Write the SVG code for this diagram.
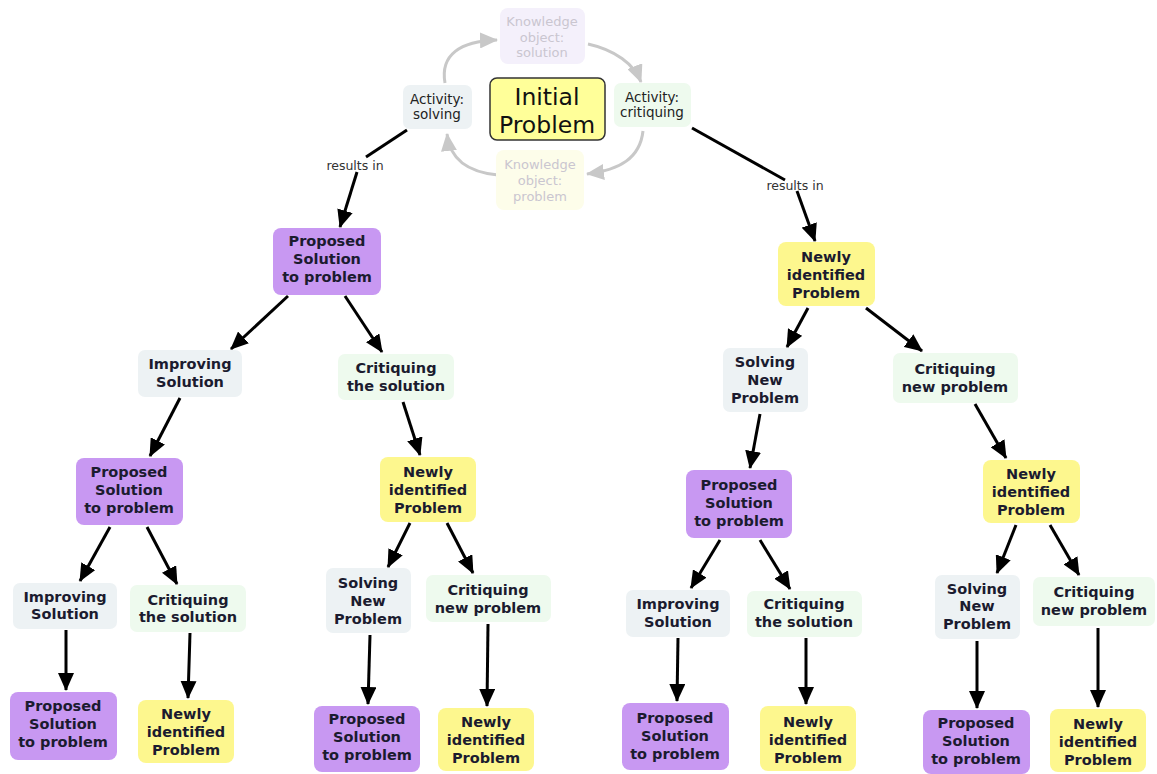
<svg xmlns="http://www.w3.org/2000/svg" width="1157" height="774" viewBox="0 0 1157 774">
<style>
.n text{font-family:"DejaVu Sans","Verdana",sans-serif;font-weight:bold;font-size:14.5px;fill:#1b1b2f;text-anchor:middle}
.sm text{font-family:"DejaVu Sans","Verdana",sans-serif;font-size:13.5px;fill:#222;text-anchor:middle}
.ghost text{font-family:"DejaVu Sans","Verdana",sans-serif;font-size:13px;fill:#cac6d0;text-anchor:middle}
.pur{fill:#c898f2}
.yel{fill:#fdf78e}
.blu{fill:#edf2f4}
.grn{fill:#eefaee}
.c line,.c path{stroke:#000;stroke-width:3;fill:none}
.g path{stroke:#c8c8c8;stroke-width:3;fill:none}
.lbl{font-family:"DejaVu Sans","Verdana",sans-serif;font-size:12.5px;fill:#333;text-anchor:middle}
</style>
<defs>
<marker id="ah" markerUnits="userSpaceOnUse" markerWidth="18" markerHeight="16" refX="17" refY="8" orient="auto">
<path d="M0,0 L18,8 L0,16 z" fill="#000"/>
</marker>
<marker id="gh" markerUnits="userSpaceOnUse" markerWidth="18" markerHeight="16" refX="17" refY="8" orient="auto">
<path d="M0,0 L18,8 L0,16 z" fill="#c8c8c8"/>
</marker>
</defs>
<rect width="1157" height="774" fill="#fff"/>

<g id="cycle" class="g">
<path d="M445,83 C440,55 460,41 497,40" marker-end="url(#gh)"/>
<path d="M588,44 C615,50 634,64 641,82" marker-end="url(#gh)"/>
<path d="M643,131 C640,158 620,170 587,174" marker-end="url(#gh)"/>
<path d="M498,175 C468,172 450,160 447,134" marker-end="url(#gh)"/>
</g>

<g id="connectors" class="c">
<line x1="407" y1="130" x2="366" y2="157"/>
<line x1="357" y1="172" x2="340" y2="227" marker-end="url(#ah)"/>
<line x1="692" y1="128" x2="785" y2="180"/>
<line x1="797" y1="191" x2="815" y2="241" marker-end="url(#ah)"/>
<line x1="288" y1="296" x2="231" y2="349" marker-end="url(#ah)"/>
<line x1="345" y1="296" x2="382" y2="352" marker-end="url(#ah)"/>
<line x1="180" y1="398" x2="150" y2="456" marker-end="url(#ah)"/>
<line x1="403" y1="402" x2="420" y2="455" marker-end="url(#ah)"/>
<line x1="110" y1="527" x2="80" y2="581" marker-end="url(#ah)"/>
<line x1="147" y1="527" x2="177" y2="584" marker-end="url(#ah)"/>
<line x1="66" y1="630" x2="66" y2="690" marker-end="url(#ah)"/>
<line x1="190" y1="633" x2="188" y2="698" marker-end="url(#ah)"/>
<line x1="410" y1="523" x2="388" y2="567" marker-end="url(#ah)"/>
<line x1="447" y1="523" x2="473" y2="573" marker-end="url(#ah)"/>
<line x1="370" y1="635" x2="368" y2="704" marker-end="url(#ah)"/>
<line x1="488" y1="624" x2="487" y2="706" marker-end="url(#ah)"/>
<line x1="808" y1="308" x2="787" y2="347" marker-end="url(#ah)"/>
<line x1="866" y1="308" x2="922" y2="351" marker-end="url(#ah)"/>
<line x1="760" y1="414" x2="750" y2="468" marker-end="url(#ah)"/>
<line x1="975" y1="404" x2="1006" y2="458" marker-end="url(#ah)"/>
<line x1="720" y1="540" x2="691" y2="588" marker-end="url(#ah)"/>
<line x1="760" y1="540" x2="790" y2="589" marker-end="url(#ah)"/>
<line x1="678" y1="638" x2="677" y2="701" marker-end="url(#ah)"/>
<line x1="806" y1="638" x2="806" y2="704" marker-end="url(#ah)"/>
<line x1="1016" y1="525" x2="997" y2="573" marker-end="url(#ah)"/>
<line x1="1050" y1="525" x2="1079" y2="575" marker-end="url(#ah)"/>
<line x1="977" y1="641" x2="977" y2="708" marker-end="url(#ah)"/>
<line x1="1098" y1="628" x2="1098" y2="707" marker-end="url(#ah)"/>
<text class="lbl" x="355" y="170" stroke="none" fill="#333">results in</text>
<text class="lbl" x="795" y="190" stroke="none" fill="#333">results in</text>
</g>

<g id="ko_solution" class="ghost"><rect x="500" y="8" width="85" height="56" rx="8" fill="#f4f0fb"/>
<text x="542" y="26">Knowledge</text><text x="542" y="42">object:</text><text x="542" y="57">solution</text></g>
<g id="act_solving" class="sm"><rect x="403" y="85" width="69" height="44" rx="7" fill="#edf2f4"/>
<text x="437" y="104">Activity:</text><text x="437" y="119">solving</text></g>
<g id="initial"><rect x="490" y="78" width="115" height="62" rx="7" fill="#ffff99" stroke="#333" stroke-width="1.5"/>
<text x="547" y="105" font-family="DejaVu Sans, sans-serif" font-size="23.5" fill="#111" text-anchor="middle">Initial</text>
<text x="547" y="133" font-family="DejaVu Sans, sans-serif" font-size="23.5" fill="#111" text-anchor="middle">Problem</text></g>
<g id="act_critiquing" class="sm"><rect x="614" y="83" width="77" height="44" rx="7" fill="#eefaee"/>
<text x="652" y="102">Activity:</text><text x="652" y="117">critiquing</text></g>
<g id="ko_problem" class="ghost"><rect x="496" y="150" width="88" height="60" rx="8" fill="#fdfdea"/>
<text x="540" y="169">Knowledge</text><text x="540" y="185">object:</text><text x="540" y="201">problem</text></g>

<g id="ps1" class="n"><rect class="pur" x="273" y="228" width="108" height="67" rx="8"/>
<text x="327" y="246">Proposed</text><text x="327" y="264">Solution</text><text x="327" y="282">to problem</text></g>
<g id="imp1" class="n"><rect class="blu" x="138" y="350" width="104" height="47" rx="7"/>
<text x="190" y="369">Improving</text><text x="190" y="387">Solution</text></g>
<g id="crit1" class="n"><rect class="grn" x="338" y="354" width="116" height="46" rx="7"/>
<text x="396" y="373">Critiquing</text><text x="396" y="391">the solution</text></g>
<g id="ps2" class="n"><rect class="pur" x="76" y="458" width="107" height="67" rx="8"/>
<text x="129" y="477">Proposed</text><text x="129" y="495">Solution</text><text x="129" y="513">to problem</text></g>
<g id="nip1" class="n"><rect class="yel" x="380" y="457" width="96" height="65" rx="8"/>
<text x="428" y="477">Newly</text><text x="428" y="495">identified</text><text x="428" y="513">Problem</text></g>
<g id="imp3" class="n"><rect class="blu" x="13" y="583" width="104" height="46" rx="7"/>
<text x="65" y="602">Improving</text><text x="65" y="619">Solution</text></g>
<g id="crit3" class="n"><rect class="grn" x="130" y="585" width="116" height="47" rx="7"/>
<text x="188" y="605">Critiquing</text><text x="188" y="622">the solution</text></g>
<g id="ps4" class="n"><rect class="pur" x="10" y="692" width="107" height="68" rx="8"/>
<text x="63" y="711">Proposed</text><text x="63" y="729">Solution</text><text x="63" y="747">to problem</text></g>
<g id="nip4" class="n"><rect class="yel" x="138" y="700" width="96" height="63" rx="8"/>
<text x="186" y="719">Newly</text><text x="186" y="737">identified</text><text x="186" y="755">Problem</text></g>
<g id="snp_m" class="n"><rect class="blu" x="326" y="568" width="85" height="65" rx="7"/>
<text x="368" y="588">Solving</text><text x="368" y="606">New</text><text x="368" y="624">Problem</text></g>
<g id="cnp_m" class="n"><rect class="grn" x="426" y="575" width="125" height="47" rx="7"/>
<text x="488" y="595">Critiquing</text><text x="488" y="613">new problem</text></g>
<g id="ps_mb" class="n"><rect class="pur" x="314" y="706" width="106" height="66" rx="8"/>
<text x="367" y="724">Proposed</text><text x="367" y="742">Solution</text><text x="367" y="760">to problem</text></g>
<g id="nip_mb" class="n"><rect class="yel" x="438" y="708" width="96" height="63" rx="8"/>
<text x="486" y="727">Newly</text><text x="486" y="745">identified</text><text x="486" y="763">Problem</text></g>

<g id="nip_r" class="n"><rect class="yel" x="778" y="242" width="97" height="64" rx="8"/>
<text x="826" y="262">Newly</text><text x="826" y="280">identified</text><text x="826" y="298">Problem</text></g>
<g id="snp_r" class="n"><rect class="blu" x="723" y="348" width="85" height="64" rx="7"/>
<text x="765" y="367">Solving</text><text x="765" y="385">New</text><text x="765" y="403">Problem</text></g>
<g id="cnp_r" class="n"><rect class="grn" x="893" y="353" width="125" height="50" rx="7"/>
<text x="955" y="374">Critiquing</text><text x="955" y="392">new problem</text></g>
<g id="ps_r" class="n"><rect class="pur" x="686" y="470" width="106" height="68" rx="8"/>
<text x="739" y="490">Proposed</text><text x="739" y="508">Solution</text><text x="739" y="526">to problem</text></g>
<g id="nip_r2" class="n"><rect class="yel" x="983" y="460" width="97" height="63" rx="8"/>
<text x="1031" y="479">Newly</text><text x="1031" y="497">identified</text><text x="1031" y="515">Problem</text></g>
<g id="imp_r" class="n"><rect class="blu" x="626" y="590" width="104" height="47" rx="7"/>
<text x="678" y="609">Improving</text><text x="678" y="627">Solution</text></g>
<g id="crit_r" class="n"><rect class="grn" x="747" y="591" width="115" height="46" rx="7"/>
<text x="804" y="609">Critiquing</text><text x="804" y="627">the solution</text></g>
<g id="ps_rb" class="n"><rect class="pur" x="622" y="703" width="107" height="67" rx="8"/>
<text x="675" y="723">Proposed</text><text x="675" y="741">Solution</text><text x="675" y="759">to problem</text></g>
<g id="nip_rb" class="n"><rect class="yel" x="760" y="706" width="96" height="65" rx="8"/>
<text x="808" y="727">Newly</text><text x="808" y="745">identified</text><text x="808" y="763">Problem</text></g>
<g id="snp_r2" class="n"><rect class="blu" x="935" y="575" width="85" height="64" rx="7"/>
<text x="977" y="594">Solving</text><text x="977" y="611">New</text><text x="977" y="629">Problem</text></g>
<g id="cnp_r2" class="n"><rect class="grn" x="1033" y="577" width="122" height="49" rx="7"/>
<text x="1094" y="597">Critiquing</text><text x="1094" y="615">new problem</text></g>
<g id="ps_r2b" class="n"><rect class="pur" x="923" y="710" width="107" height="64" rx="8"/>
<text x="976" y="728">Proposed</text><text x="976" y="746">Solution</text><text x="976" y="764">to problem</text></g>
<g id="nip_r2b" class="n"><rect class="yel" x="1050" y="709" width="96" height="63" rx="8"/>
<text x="1098" y="729">Newly</text><text x="1098" y="747">identified</text><text x="1098" y="765">Problem</text></g>
</svg>
